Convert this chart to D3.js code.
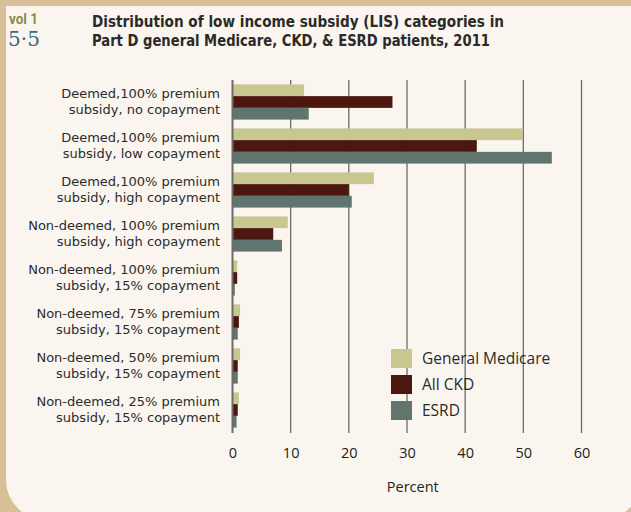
<!DOCTYPE html>
<html>
<head>
<meta charset="utf-8">
<script src="https://cdn.jsdelivr.net/npm/d3@7"></script>
<style>
  body { margin: 0; background: #d8bf95; }
  svg { display: block; }
  .cat { font-family: "DejaVu Sans", sans-serif; font-size: 13px; fill: #2b2b2b; }
  .tick text { font-family: "Open Sans", sans-serif; font-size: 14.5px; fill: #222; }
</style>
</head>
<body>
<svg id="chart" width="631" height="512"></svg>
<script>
(function(){
  var categories = [
    ["Deemed,100% premium", "subsidy, no copayment"],
    ["Deemed,100% premium", "subsidy, low copayment"],
    ["Deemed,100% premium", "subsidy, high copayment"],
    ["Non-deemed, 100% premium", "subsidy, high copayment"],
    ["Non-deemed, 100% premium", "subsidy, 15% copayment"],
    ["Non-deemed, 75% premium", "subsidy, 15% copayment"],
    ["Non-deemed, 50% premium", "subsidy, 15% copayment"],
    ["Non-deemed, 25% premium", "subsidy, 15% copayment"]
  ]
  var seriesNames = ["General Medicare", "All CKD", "ESRD"]
  var generalMedicare = [12.3, 49.9, 24.3, 9.5, 0.8, 1.3, 1.3, 1.1]
  var allCKD = [27.5, 42.0, 20.0, 7.0, 0.8, 1.1, 0.9, 0.9]
  var esrd = [13.1, 54.9, 20.5, 8.5, 0.4, 0.9, 0.9, 0.7]
  var xTicks = [0, 10, 20, 30, 40, 50, 60]
  var colors = ["#c8c790", "#4b170e", "#5f756d"]

  var series = [generalMedicare, allCKD, esrd]

  var svg = d3.select('#chart')

  // paper panel
  svg.append('rect')
    .attr('x', 6).attr('y', -40)
    .attr('width', 635).attr('height', 560)
    .attr('rx', 40)
    .attr('fill', '#faf6ef')
  svg.append('rect')
    .attr('x', 0).attr('y', 0)
    .attr('width', 631).attr('height', 6)
    .attr('fill', '#d8bf95')

  // header
  svg.append('text').text('vol 1')
    .attr('x', 9).attr('y', 24)
    .attr('font-family', '"Roboto", sans-serif')
    .attr('font-weight', 'bold')
    .attr('font-size', 15).attr('fill', '#8b8a4c')
    .attr('textLength', 29).attr('lengthAdjust', 'spacingAndGlyphs')
  svg.append('text').text('5·5')
    .attr('x', 8).attr('y', 46)
    .attr('font-family', '"DejaVu Serif", serif')
    .attr('font-size', 21).attr('fill', '#3b6a82')
    .attr('textLength', 32).attr('lengthAdjust', 'spacingAndGlyphs')

  var titleLines = ["Distribution of low income subsidy (LIS) categories in",
                    "Part D general Medicare, CKD, & ESRD patients, 2011"]
  var titleWidths = [412, 398]
  svg.selectAll('text.title')
    .data(titleLines).enter()
    .append('text').attr('class', 'title')
    .text(function(d) { return d })
    .attr('x', 92)
    .attr('y', function(d, i) { return 27 + i * 19 })
    .attr('font-family', '"DejaVu Sans Condensed", "DejaVu Sans", sans-serif')
    .attr('font-weight', 'bold')
    .attr('font-size', 16.2)
    .attr('fill', '#2a2a2a')
    .attr('textLength', function(d, i) { return titleWidths[i] })
    .attr('lengthAdjust', 'spacingAndGlyphs')

  var x = d3.scaleLinear()
    .domain([0, 60])
    .range([232.5, 581.5])

  var y = d3.scaleBand()
    .domain(d3.range(categories.length))
    .range([80, 432])
    .paddingInner(0.2)
    .paddingOuter(0.1)

  var inner = d3.scaleBand()
    .domain(d3.range(series.length))
    .range([0, y.bandwidth()])

  // gridlines
  svg.append('g')
    .selectAll('line')
    .data(xTicks.slice(1)).enter()
    .append('line')
    .attr('x1', function(d) { return x(d) })
    .attr('x2', function(d) { return x(d) })
    .attr('y1', 80).attr('y2', 433)
    .attr('stroke', '#6f6b68').attr('stroke-width', 1.3)

  // bars
  series.forEach(function(vals, si) {
    svg.append('g')
      .selectAll('rect')
      .data(vals).enter()
      .append('rect')
      .attr('x', x(0))
      .attr('y', function(d, i) { return y(i) + inner(si) })
      .attr('width', function(d) { return x(d) - x(0) })
      .attr('height', inner.bandwidth())
      .attr('fill', colors[si])
  })

  // zero axis line
  svg.append('line')
    .attr('x1', x(0)).attr('x2', x(0))
    .attr('y1', 80).attr('y2', 433)
    .attr('stroke', '#6f6b68').attr('stroke-width', 2)

  // x axis labels
  var xAxis = svg.append('g')
    .attr('transform', 'translate(0,446)')
    .call(d3.axisBottom(x).tickValues(xTicks).tickSize(0).tickPadding(0))
  xAxis.select('.domain').remove()
  xAxis.selectAll('text').attr('dy', '0.85em')

  svg.append('text').text('Percent')
    .attr('x', x(31)).attr('y', 492)
    .attr('text-anchor', 'middle')
    .attr('font-family', '"Open Sans", sans-serif')
    .attr('font-size', 14.5).attr('fill', '#222')

  // category labels, two lines each
  categories.forEach(function(lines, i) {
    var c = y(i) + y.bandwidth() / 2
    svg.append('g')
      .selectAll('text')
      .data(lines).enter()
      .append('text').attr('class', 'cat')
      .attr('text-anchor', 'end')
      .attr('x', 220)
      .attr('y', function(t, j) { return c - 4 + j * 16.3 })
      .text(function(t) { return t })
  })

  // legend
  var legend = svg.append('g')
    .selectAll('g')
    .data(seriesNames).enter()
    .append('g')
    .attr('transform', function(d, i) { return 'translate(391,' + (349 + i * 26) + ')' })
  legend.append('rect')
    .attr('width', 21).attr('height', 19)
    .attr('fill', function(d, i) { return colors[i] })
  legend.append('text')
    .text(function(d) { return d })
    .attr('x', 31).attr('y', 15)
    .attr('font-family', '"Open Sans", sans-serif')
    .attr('font-size', 15.5).attr('fill', '#2b2b2b')
})()
</script>
</body>
</html>
